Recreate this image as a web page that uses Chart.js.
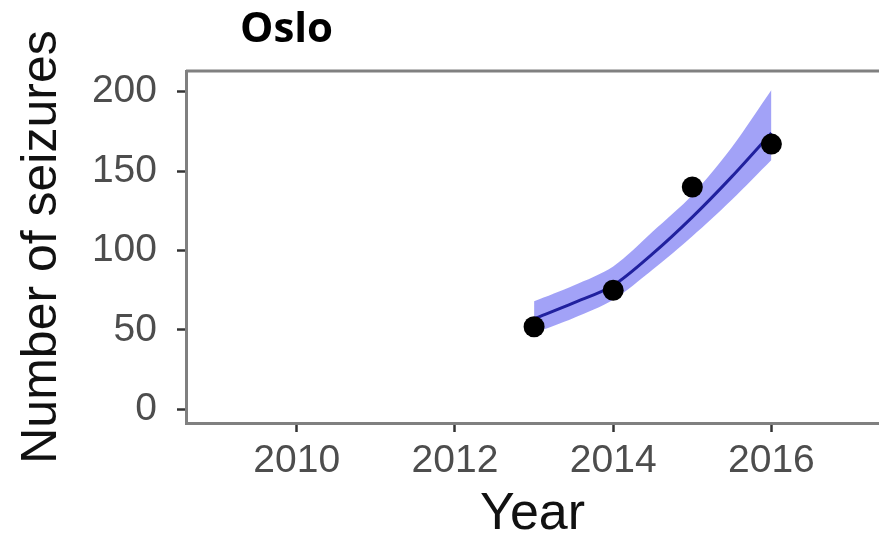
<!DOCTYPE html>
<html>
<head>
<meta charset="utf-8">
<script src="https://cdn.jsdelivr.net/npm/chart.js@4/dist/chart.umd.min.js"></script>
<style>
  html, body { margin: 0; padding: 0; background: #fff; }
  #wrap { position: relative; width: 879px; height: 536px; overflow: hidden; }
  #plot { position: absolute; left: 0; top: 0; }
  #title {
    position: absolute; left: 240px; top: 5px;
    font: bold 42px "Open Sans", "Liberation Sans", sans-serif;
    line-height: 1; color: #000; white-space: nowrap;
  }
</style>
</head>
<body>
<div id="wrap">
  <canvas id="plot" width="879" height="536"></canvas>
  <div id="title">Oslo</div>
</div>
<script>
// Observed yearly seizure counts
const years = [2013, 2014, 2015, 2016];
const seizures = [52, 75, 140, 167];

// Fitted trend and its confidence band, read at half-year steps
const fitYears = [2013, 2013.5, 2014, 2014.5, 2015, 2015.5, 2016];
const fitValues = [57, 67, 78, 98, 121, 146.5, 174];
const bandLower = [48, 57.5, 69, 88, 109, 132, 157];
const bandUpper = [68, 78, 90, 112, 135, 165, 201];

// Axis ticks
const xTicks = [2010, 2012, 2014, 2016];
const yTicks = [0, 50, 100, 150, 200];

const toPoints = (xs, ys) => xs.map((x, i) => ({ x: x, y: ys[i] }));

const axisFont = '"Liberation Sans", Arial, Helvetica, sans-serif';
const tickColor = '#4d4d4d';
const frameColor = '#808080';

// Top edge of the panel frame
const panelTop = {
  id: 'panelTop',
  afterDraw(chart) {
    const { ctx, chartArea } = chart;
    ctx.save();
    ctx.strokeStyle = frameColor;
    ctx.lineWidth = 3;
    ctx.beginPath();
    ctx.moveTo(chartArea.left, chartArea.top);
    ctx.lineTo(chartArea.right, chartArea.top);
    ctx.stroke();
    ctx.restore();
  }
};

new Chart(document.getElementById('plot'), {
  type: 'line',
  data: {
    datasets: [
      {
        label: 'lower',
        data: toPoints(fitYears, bandLower),
        borderWidth: 0,
        borderColor: 'rgba(0,0,0,0)',
        pointRadius: 0,
        fill: false,
        tension: 0.3,
        order: 3
      },
      {
        label: 'upper',
        data: toPoints(fitYears, bandUpper),
        borderWidth: 0,
        borderColor: 'rgba(0,0,0,0)',
        backgroundColor: 'rgba(70,70,240,0.5)',
        pointRadius: 0,
        fill: '-1',
        tension: 0.3,
        order: 2
      },
      {
        label: 'fit',
        data: toPoints(fitYears, fitValues),
        borderColor: '#20209e',
        borderWidth: 3,
        pointRadius: 0,
        fill: false,
        tension: 0.3,
        order: 1
      },
      {
        label: 'Number of seizures',
        data: toPoints(years, seizures),
        showLine: false,
        pointRadius: 10.5,
        pointBackgroundColor: '#000',
        pointBorderWidth: 0,
        fill: false,
        order: 0
      }
    ]
  },
  options: {
    responsive: false,
    animation: false,
    devicePixelRatio: 1,
    layout: { autoPadding: false, padding: { top: 71, right: 0, bottom: 0, left: 0 } },
    plugins: {
      legend: { display: false },
      tooltip: { enabled: false }
    },
    scales: {
      x: {
        type: 'linear',
        min: 2008.6,
        max: 2017.36,
        afterBuildTicks: s => { s.ticks = xTicks.map(v => ({ value: v })); },
        afterFit: s => { s.height = 113; s.paddingLeft = 0; s.paddingRight = 0; },
        grid: {
          display: true, drawOnChartArea: false, drawTicks: true,
          tickLength: 9, tickWidth: 2.5, tickColor: '#333'
        },
        border: { display: true, color: frameColor, width: 3 },
        ticks: {
          color: tickColor,
          font: { family: axisFont, size: 39 },
          padding: 6, maxRotation: 0, autoSkip: false,
          callback: v => String(v)
        },
        title: {
          display: true, text: 'Year', color: '#111',
          font: { family: axisFont, size: 52, lineHeight: 0.8 },
          padding: { top: 0, bottom: 1 }
        }
      },
      y: {
        type: 'linear',
        min: -8.6,
        max: 213,
        afterBuildTicks: s => { s.ticks = yTicks.map(v => ({ value: v })); },
        afterFit: s => { s.width = 186; s.paddingTop = 0; s.paddingBottom = 0; },
        grid: {
          display: true, drawOnChartArea: false, drawTicks: true,
          tickLength: 9, tickWidth: 2.5, tickColor: '#333'
        },
        border: { display: true, color: frameColor, width: 3 },
        ticks: {
          color: tickColor,
          font: { family: axisFont, size: 39 },
          padding: 20, autoSkip: false,
          callback: v => String(v)
        },
        title: {
          display: true, text: 'Number of seizures', color: '#111',
          font: { family: axisFont, size: 50, lineHeight: 1.2 },
          padding: { top: 12, bottom: 0 }
        }
      }
    }
  },
  plugins: [panelTop]
});
</script>
</body>
</html>
